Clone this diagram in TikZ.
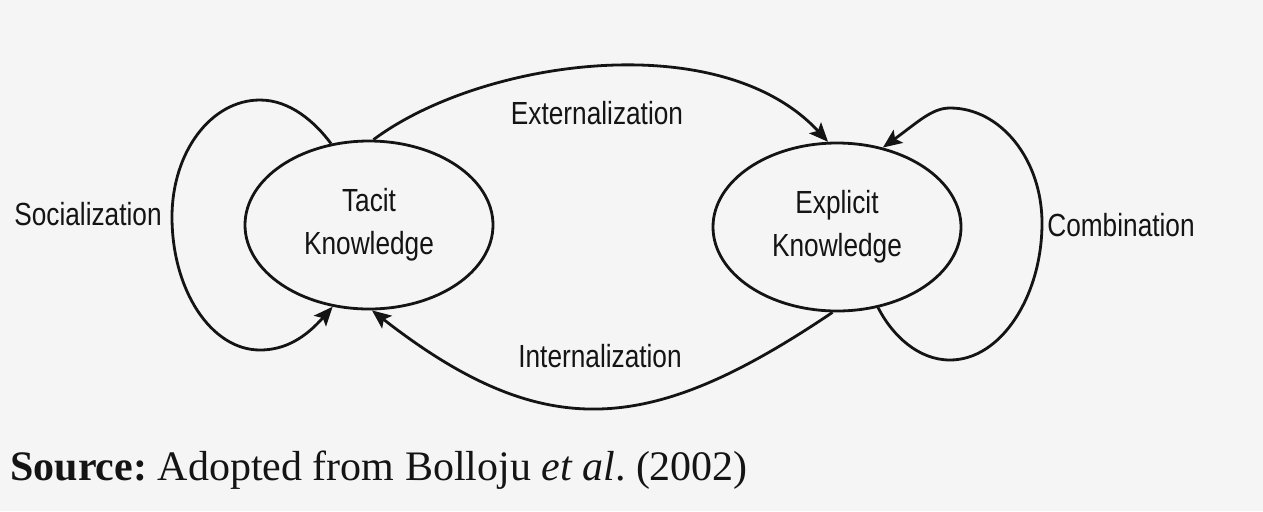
\documentclass[tikz,border=0pt]{standalone}
\usepackage{fontspec}
\setmainfont{Liberation Serif}
\newfontfamily\labfont[FakeStretch=0.82]{Liberation Sans}
\usetikzlibrary{shapes.geometric,arrows.meta}
\definecolor{bgc}{RGB}{245,245,245}
\definecolor{ink}{RGB}{20,20,20}
\frenchspacing
\begin{document}
\begin{tikzpicture}[x=0.5pt,y=-0.5pt,
  lab/.style={font=\labfont\fontsize{16}{21.5}\selectfont, inner sep=0pt, text=ink},
  know/.style={draw=ink, line width=1.4pt, ellipse, minimum width=124pt, minimum height=84pt,
    inner sep=0pt, align=center, font=\labfont\fontsize{16}{21.5}\selectfont, text=ink},
  conn/.style={draw=ink, line width=1.4pt, -{Stealth[length=9.5pt,width=8pt,inset=2pt]}}]
\fill[bgc] (0,0) rectangle (1263,511);
\useasboundingbox (0,0) rectangle (1263,511);
\node[know] (T) at (369,225) {Tacit\\Knowledge};
\node[know] (E) at (837,227) {Explicit\\Knowledge};
\node[lab] (soc) at (88,214) {Socialization};
\node[lab] (ext) at (597,113) {Externalization};
\node[lab] (com) at (1121,225) {Combination};
\node[lab] (int) at (600,356) {Internalization};
\node[anchor=base west, inner sep=0pt, font=\fontsize{21}{25}\selectfont, text=ink] (src) at (10,480)
  {\textbf{Source:} Adopted from Bolloju \textit{et al}. (2002)};
\draw[conn] (T.115) .. controls (315,122) and (290,100) .. (260,100)
  .. controls (211,100) and (172,152) .. (172,217)
  .. controls (172,290) and (211,350) .. (260,350)
  .. controls (285,350) and (305,338) .. (T.246);
\draw[conn] (T.87) .. controls (480,60) and (720,25) .. (E.96);
\draw[conn] (E.-93) .. controls (652,434) and (546,446) .. (T.-88);
\draw[conn] (E.-63) .. controls (892,335) and (918,360) .. (950,360)
  .. controls (1001,360) and (1042,296) .. (1042,223)
  .. controls (1042,160) and (1001,108) .. (950,108)
  .. controls (932,108) and (918,122) .. (E.60);
\end{tikzpicture}
\end{document}
